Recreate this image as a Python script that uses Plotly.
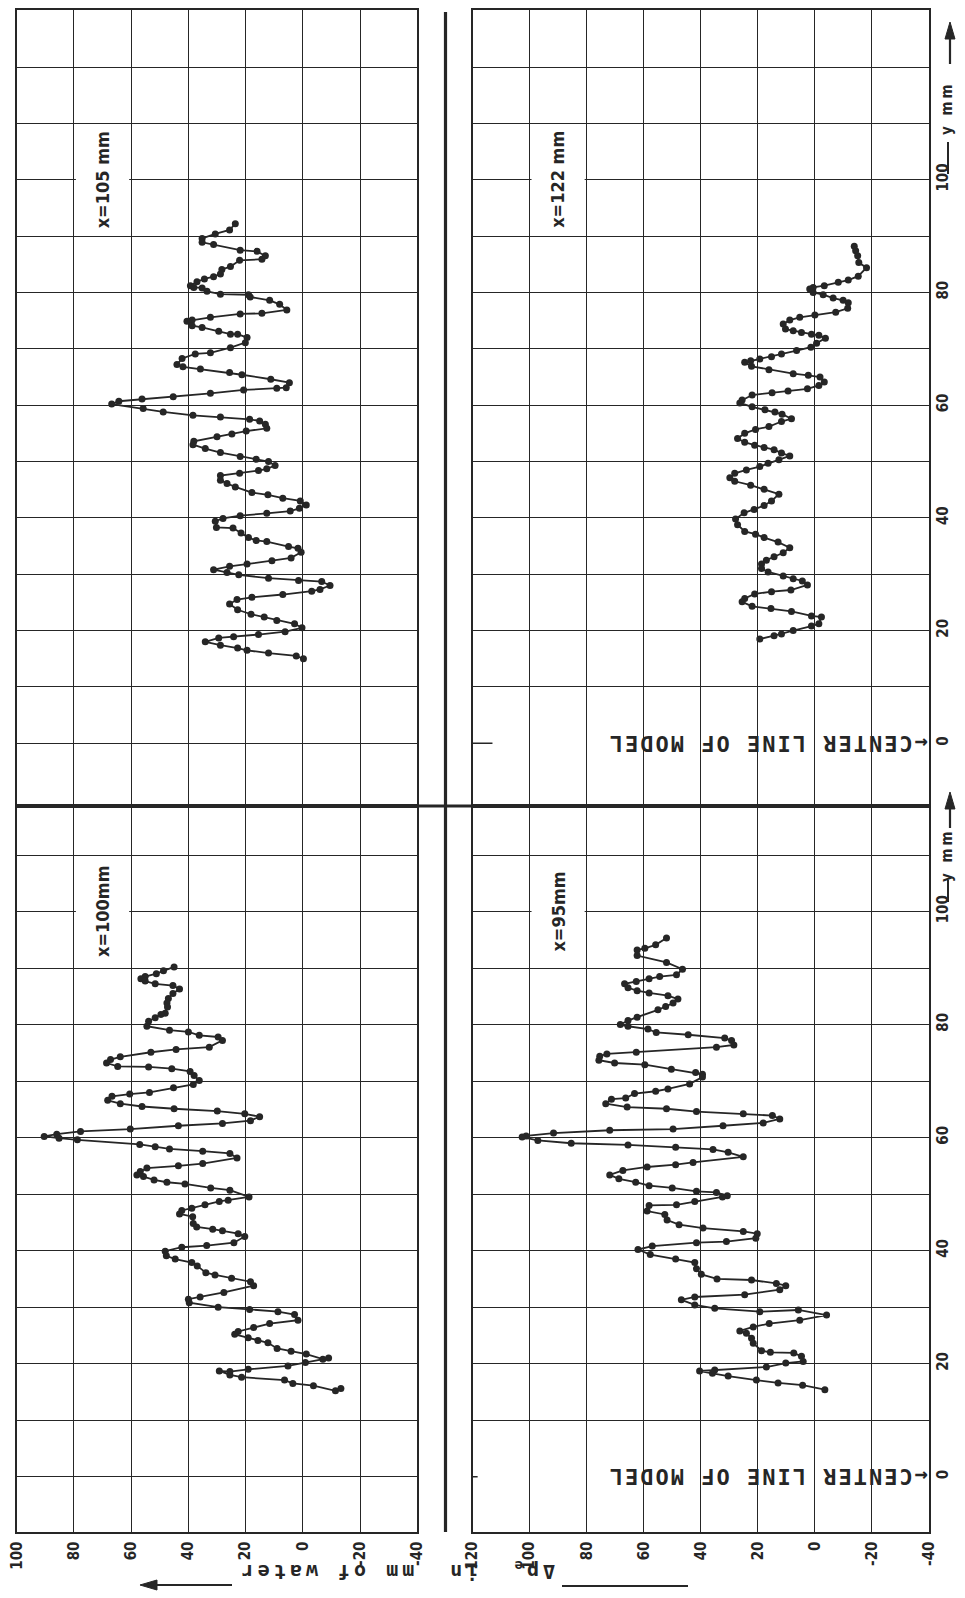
import plotly.graph_objects as go

# ---------------- data ----------------
# Panel x = 105 mm (top left)
DP_105 = [23.6, 25.6, 30.6, 35.2, 35.2, 31.2, 21.9, 16.0, 13.1, 14.3,
          22.1, 25.3, 28.3, 28.8, 31.2, 34.4, 37.0, 39.3, 38.1, 35.2,
          33.5, 28.8, 19.0, 18.4, 11.6, 8.1, 5.6, 14.3, 21.9, 32.3,
          38.7, 40.5, 38.7, 35.2, 29.4, 25.3, 22.8, 19.5, 20.1, 25.3,
          32.3, 37.6, 42.2, 44.0, 41.9, 35.8, 25.6, 21.3, 11.2, 4.7,
          5.8, 9.1, 20.7, 32.3, 45.3, 56.2, 64.3, 66.8, 55.8, 48.8,
          38.4, 28.8, 18.6, 15.1, 13.1, 12.6, 19.8, 24.8, 30.0, 38.1,
          38.4, 34.1, 28.8, 21.9, 16.3, 12.0, 9.7, 12.6, 15.5, 22.1,
          28.8, 28.8, 26.5, 23.6, 17.8, 12.2, 7.0, 0.9, -1.2, 1.2,
          4.4, 12.6, 21.9, 27.9, 30.6, 30.2, 24.4, 21.6, 19.0, 16.3,
          12.6, 5.0, 1.7, 0.6, 4.1, 10.8, 19.5, 25.6, 31.2, 26.5,
          22.4, 12.0, 1.5, -6.6, -9.5, -6.0, -3.1, 7.0, 17.8, 23.0,
          25.6, 22.8, 18.1, 13.5, 9.1, 2.9, 0.3, 6.2, 15.5, 24.2,
          29.4, 34.1, 28.8, 22.8, 19.5, 12.0, 2.3, -0.2]
Y_105 = [92.2, 91.1, 90.4, 89.6, 88.9, 88.5, 87.5, 87.3, 86.5, 85.9,
         85.7, 84.6, 84.1, 83.3, 82.8, 82.4, 81.9, 81.2, 80.9, 80.8,
         80.2, 79.7, 79.6, 79.2, 78.6, 77.9, 76.9, 76.3, 76.2, 75.6,
         75.1, 74.9, 74.1, 73.8, 73.1, 72.6, 72.6, 72.0, 71.1, 70.2,
         69.3, 69.1, 68.3, 67.2, 66.8, 66.4, 65.8, 65.4, 64.6, 64.0,
         63.1, 63.0, 62.7, 62.1, 61.5, 61.1, 60.7, 60.2, 59.4, 58.8,
         58.2, 57.9, 57.5, 57.2, 56.6, 55.9, 55.4, 54.9, 54.4, 53.6,
         53.0, 52.3, 51.6, 50.9, 50.4, 50.0, 49.3, 48.7, 48.4, 47.9,
         47.5, 46.7, 46.1, 45.5, 44.5, 44.1, 43.5, 43.0, 42.3, 41.7,
         41.2, 40.8, 40.4, 39.9, 39.4, 38.3, 38.2, 37.3, 36.5, 36.0,
         35.8, 34.9, 34.6, 33.9, 32.9, 32.4, 31.8, 31.4, 30.8, 30.3,
         29.9, 29.3, 28.9, 28.7, 28.0, 27.3, 27.0, 26.4, 25.9, 25.5,
         24.7, 23.7, 22.9, 22.4, 21.8, 21.2, 20.5, 19.8, 19.3, 18.9,
         18.7, 18.0, 17.4, 16.9, 16.5, 16.0, 15.5, 15.0]

# Panel x = 122 mm (top right)
DP_122 = [-13.8, -14.3, -15.0, -15.4, -18.1, -15.2, -11.7, -8.2, -3.3, 0.6,
          1.8, 0.6, -2.9, -6.4, -9.9, -11.7, -11.5, -7.3, 0.0, 5.3,
          8.8, 11.1, 10.3, 7.6, 4.7, 1.2, -1.4, -3.7, -0.6, 1.4,
          6.4, 11.7, 15.2, 19.3, 22.5, 24.6, 22.2, 16.1, 7.6, 2.3,
          -1.8, -3.3, -1.4, 2.6, 9.4, 15.0, 22.0, 25.5, 26.3, 22.0,
          17.5, 14.0, 11.5, 8.2, 11.7, 16.1, 20.8, 24.6, 27.1, 24.6,
          21.1, 17.8, 14.3, 11.7, 8.8, 12.6, 16.4, 19.3, 24.0, 28.1,
          29.8, 28.1, 22.5, 17.8, 12.6, 15.2, 17.8, 21.3, 24.8, 27.8,
          27.1, 24.6, 20.8, 17.8, 12.9, 8.8, 11.1, 14.3, 17.0, 18.7,
          18.7, 16.4, 11.1, 7.6, 4.4, 2.6, 8.4, 15.2, 21.1, 24.6,
          25.5, 22.0, 15.4, 8.2, 1.2, -2.3, -1.4, 1.2, 7.6, 11.7,
          14.3, 19.3]
Y_122 = [88.2, 87.4, 86.5, 85.3, 84.4, 82.9, 82.2, 81.8, 81.2, 80.9,
         80.6, 80.0, 79.6, 79.0, 78.6, 78.2, 77.2, 76.5, 76.0, 75.6,
         75.1, 74.4, 73.5, 73.2, 72.9, 72.6, 72.4, 71.9, 71.0, 70.3,
         69.7, 69.1, 68.6, 68.2, 67.9, 67.6, 66.9, 66.3, 65.6, 65.3,
         65.0, 64.1, 63.5, 62.9, 62.5, 62.2, 61.8, 60.9, 60.4, 59.7,
         59.2, 58.8, 58.4, 57.6, 57.1, 56.2, 55.7, 55.0, 54.1, 53.4,
         52.9, 52.5, 52.1, 51.5, 51.0, 50.3, 49.7, 49.1, 48.5, 47.9,
         47.1, 46.5, 45.8, 45.1, 44.2, 43.0, 42.2, 41.5, 40.9, 39.8,
         38.8, 37.6, 37.1, 36.5, 35.7, 34.7, 33.8, 33.1, 32.5, 31.8,
         31.0, 30.4, 29.7, 29.2, 28.8, 28.1, 27.2, 26.9, 26.5, 25.7,
         25.1, 24.3, 23.9, 23.4, 22.6, 22.4, 21.2, 20.8, 20.0, 19.4,
         19.1, 18.5]

# Panel x = 100 mm (bottom left)
DP_100 = [45.0, 48.7, 51.2, 55.1, 56.6, 55.1, 51.6, 45.4, 43.1, 45.4,
          47.0, 47.5, 47.3, 48.1, 49.6, 51.6, 53.9, 54.5, 46.6, 40.0,
          36.2, 29.6, 28.1, 32.7, 44.3, 53.1, 63.8, 67.2, 68.6, 64.7,
          53.9, 45.8, 39.4, 38.0, 36.2, 38.3, 45.2, 53.6, 60.5, 66.7,
          68.2, 63.8, 56.2, 45.0, 29.9, 20.3, 15.1, 18.3, 28.1, 43.5,
          60.3, 77.7, 86.0, 90.4, 85.2, 78.8, 57.0, 51.6, 46.6, 35.0,
          25.5, 23.0, 35.0, 43.5, 54.5, 56.8, 58.0, 55.7, 52.0, 47.5,
          41.2, 32.2, 25.5, 18.8, 26.1, 29.2, 34.2, 38.8, 42.3, 43.1,
          38.5, 38.3, 37.1, 31.5, 28.1, 22.6, 20.3, 24.1, 33.6, 42.3,
          48.1, 47.7, 44.6, 38.8, 36.9, 33.9, 30.7, 24.9, 18.3, 17.2,
          27.6, 35.9, 40.0, 39.7, 29.6, 18.6, 8.7, 2.9, 1.7, 11.6,
          17.2, 22.6, 23.8, 19.1, 15.7, 12.2, 9.0, 4.1, -1.2, -7.0,
          -9.0, -0.9, 5.2, 19.1, 25.5, 29.2, 25.5, 21.4, 6.4, 3.5,
          -3.7, -11.4, -13.3]
Y_100 = [90.2, 89.5, 89.0, 88.5, 88.1, 87.7, 87.2, 86.9, 86.3, 85.5,
         84.6, 83.8, 83.1, 82.0, 81.8, 81.2, 80.6, 79.7, 79.0, 78.7,
         78.1, 77.8, 77.2, 76.0, 75.6, 75.1, 74.3, 73.8, 73.2, 72.6,
         72.5, 72.2, 71.7, 71.0, 70.1, 69.4, 68.8, 68.0, 67.7, 67.3,
         66.6, 66.0, 65.5, 65.1, 64.7, 64.2, 63.7, 63.0, 62.5, 62.1,
         61.5, 61.1, 60.6, 60.2, 59.9, 59.6, 58.8, 58.4, 58.0, 57.6,
         57.2, 56.4, 55.4, 55.0, 54.6, 54.0, 53.4, 53.1, 52.5, 52.1,
         51.8, 51.1, 50.7, 49.5, 48.9, 48.7, 48.1, 47.5, 47.1, 46.5,
         46.0, 44.8, 44.2, 43.8, 43.5, 43.0, 42.5, 41.4, 40.9, 40.6,
         39.9, 39.1, 38.5, 37.9, 37.3, 36.1, 35.7, 35.1, 34.5, 33.8,
         32.6, 31.8, 31.4, 30.8, 30.0, 29.6, 29.2, 28.7, 27.7, 27.1,
         26.4, 25.7, 25.2, 24.6, 24.1, 23.7, 22.7, 22.2, 21.7, 20.8,
         21.0, 20.2, 19.6, 19.0, 18.6, 18.7, 18.0, 17.6, 17.1, 16.5,
         16.1, 15.2, 15.6]

# Panel x = 95 mm (bottom right)
DP_95 = [52.0, 55.8, 59.6, 62.3, 62.3, 52.0, 46.4, 48.5, 54.4, 58.1,
         62.6, 66.7, 65.5, 62.3, 58.1, 51.5, 48.0, 49.7, 52.3, 55.0,
         62.3, 65.5, 68.2, 65.5, 58.5, 55.6, 44.4, 31.6, 29.2, 28.4,
         34.5, 62.6, 72.9, 75.4, 75.7, 70.2, 59.6, 50.3, 41.8, 39.4,
         39.4, 43.9, 51.5, 55.8, 63.2, 66.3, 71.3, 73.3, 65.8, 52.0,
         41.5, 25.1, 14.9, 12.3, 18.1, 32.2, 49.7, 71.9, 91.6, 101.2,
         102.6, 97.1, 85.4, 65.5, 48.8, 35.7, 30.4, 25.1, 42.7, 48.8,
         58.8, 67.3, 71.9, 68.7, 62.8, 58.1, 50.0, 41.5, 34.5, 30.7,
         32.4, 42.1, 48.5, 58.1, 58.8, 52.6, 51.8, 47.6, 39.2, 25.1,
         20.2, 20.7, 31.0, 41.5, 57.0, 62.0, 57.7, 48.8, 42.1, 41.5,
         39.8, 34.3, 22.2, 13.5, 10.2, 12.3, 24.6, 42.1, 46.8, 42.1,
         35.1, 19.3, 5.8, -4.1, 5.3, 16.0, 21.6, 26.3, 24.0, 22.2,
         21.6, 18.7, 15.6, 7.4, 4.7, 4.1, 10.2, 17.0, 35.1, 40.4,
         35.9, 30.4, 20.5, 12.9, 4.3, -3.5]
Y_95 = [95.3, 94.1, 93.5, 93.2, 92.2, 91.0, 89.8, 88.8, 88.5, 88.1,
        87.6, 87.2, 86.5, 86.0, 85.6, 85.1, 84.5, 83.8, 83.2, 82.6,
        81.3, 80.7, 80.0, 79.7, 79.2, 78.6, 78.2, 77.6, 77.2, 76.4,
        76.0, 75.1, 74.8, 74.4, 73.7, 73.2, 72.9, 72.1, 71.5, 71.2,
        70.7, 69.5, 68.6, 68.2, 67.8, 67.0, 66.8, 66.0, 65.4, 65.1,
        64.6, 64.2, 63.9, 63.3, 62.6, 62.1, 61.5, 61.3, 60.8, 60.3,
        60.1, 59.5, 59.0, 58.7, 58.3, 57.9, 57.4, 56.6, 55.6, 55.2,
        54.8, 54.2, 53.4, 52.7, 52.1, 51.5, 51.1, 50.5, 50.3, 49.7,
        49.5, 48.7, 48.1, 48.0, 47.0, 46.4, 45.4, 44.6, 44.0, 43.4,
        43.0, 42.2, 41.6, 41.4, 40.8, 40.2, 39.3, 38.5, 37.9, 36.8,
        35.8, 35.0, 34.8, 34.2, 33.8, 33.1, 32.2, 31.8, 31.3, 30.4,
        29.8, 29.2, 29.5, 28.6, 27.7, 27.1, 26.5, 25.8, 25.4, 24.5,
        23.6, 22.3, 22.0, 21.9, 21.3, 20.4, 20.1, 19.4, 18.9, 18.7,
        18.3, 17.8, 17.1, 16.6, 16.2, 15.4]

# axis ticks / labels
DP_TICKS_LEFT = [100, 80, 60, 40, 20, 0, -20, -40]
DP_TICKS_RIGHT = [120, 100, 80, 60, 40, 20, 0, -20, -40]
Y_LABEL_TICKS = [0, 20, 40, 60, 80, 100]
Y_GRID_TOP = [0, 10, 20, 30, 40, 50, 60, 70, 80, 90, 100, 110, 120]
Y_GRID_BOT = [0, 10, 20, 30, 40, 50, 60, 70, 80, 90, 100, 110]
PANEL_LABELS = ["x=105 mm", "x=122 mm", "x=100mm", "x=95mm"]
CENTER_TEXT = "\u2190CENTER LINE OF MODEL"
TITLE_TEXT = "\u0394p<sub>e</sub>  in  mm of water"
Y_NAME = "y mm"

# ---------------- geometry / style ----------------
# The page body has an 8 px margin, so the figure is made 8 px smaller and all
# page-pixel positions below are converted with that offset.
OFF = 8
W, H = 965 - OFF, 1598 - OFF
def px(v):
    return (v - OFF) / W
def py(v):
    return 1 - (v - OFF) / H

LEFT_X = [px(16.7), px(417.3)]
RIGHT_X = [px(472.5), px(929.0)]
TOP_Y = [py(806.0), py(10.0)]
BOT_Y = [py(1531.7), py(806.0)]
TOP_RANGE = [-11.13, 130.13]
BOT_RANGE = [-9.73, 118.67]

INK = "#262626"
LBL_FONT = dict(family="DejaVu Sans Condensed, DejaVu Sans, Arial, sans-serif",
                size=15, color=INK, weight="bold")
MONO = "DejaVu Sans Mono, Liberation Mono, monospace"

def xaxis(domain, rng, anchor, ticks, labels):
    return dict(domain=domain, range=rng, anchor=anchor, automargin=False,
                tickmode="array", tickvals=ticks,
                ticktext=[str(t) for t in ticks],
                showticklabels=labels, tickangle=-90, tickfont=LBL_FONT,
                ticks="", ticklabelstandoff=2, ticklabeloverflow="allow",
                showgrid=True, gridcolor=INK, gridwidth=1.4,
                showline=True, linecolor=INK, linewidth=1.6, mirror=True,
                zeroline=False, fixedrange=True)

def yaxis(domain, rng, anchor, grid):
    return dict(domain=domain, range=rng, anchor=anchor, automargin=False,
                tickmode="array", tickvals=grid, showticklabels=False,
                ticks="", showgrid=True, gridcolor=INK, gridwidth=1.4,
                showline=True, linecolor=INK, linewidth=1.6, mirror=True,
                zeroline=False, fixedrange=True)

def label_axis(over, anchor, rng):
    return dict(overlaying=over, anchor=anchor, side="right", range=rng,
                automargin=False,
                tickmode="array", tickvals=Y_LABEL_TICKS,
                ticktext=[str(t) for t in Y_LABEL_TICKS],
                tickangle=-90, tickfont=LBL_FONT, ticks="",
                ticklabelstandoff=3, ticklabeloverflow="allow",
                showgrid=False, showline=False, zeroline=False,
                fixedrange=True)

fig = go.Figure()

series = [(DP_105, Y_105, "x", "y"), (DP_122, Y_122, "x2", "y2"),
          (DP_100, Y_100, "x3", "y3"), (DP_95, Y_95, "x4", "y4")]
for dp, yy, xa, ya in series:
    fig.add_trace(go.Scatter(x=dp, y=yy, xaxis=xa, yaxis=ya,
                             mode="lines+markers",
                             line=dict(color=INK, width=1.8),
                             marker=dict(size=7, color=INK),
                             hoverinfo="skip", showlegend=False))
# empty traces so that the right-hand label axes are drawn
for xa, ya in [("x2", "y5"), ("x4", "y6")]:
    fig.add_trace(go.Scatter(x=[None], y=[None], xaxis=xa, yaxis=ya,
                             mode="markers", hoverinfo="skip", showlegend=False))

shapes = []
def pline(x0, y0, x1, y1, w):
    shapes.append(dict(type="line", xref="paper", yref="paper", x0=x0, x1=x1,
                       y0=y0, y1=y1, line=dict(color=INK, width=w)))

# thick separators
pline(px(445.5), py(1532), px(445.5), py(12), 3.2)
pline(px(16.7), py(806), px(929), py(806), 3.2)
# white cells behind panel labels (break the 100 mm grid line)
for xr, yr, c in [("x", "y", 70), ("x2", "y2", 90), ("x3", "y3", 70), ("x4", "y4", 90)]:
    shapes.append(dict(type="rect", xref=xr, yref=yr, x0=c + 9.3, x1=c - 9.3,
                       y0=95, y1=105, fillcolor="white", line=dict(width=0),
                       layer="above"))
# little tick stubs at the centre line
shapes.append(dict(type="line", xref="x2", yref="y2", x0=120, x1=113, y0=0, y1=0,
                   line=dict(color=INK, width=1.4)))
shapes.append(dict(type="line", xref="x4", yref="y4", x0=121.6, x1=118.2, y0=0, y1=0,
                   line=dict(color=INK, width=1.4)))
shapes.append(dict(type="line", xref="x3", yref="y3", x0=-40, x1=-42.8, y0=0, y1=0,
                   line=dict(color=INK, width=1.4)))
# underline beside "100 y" and arrow of the y axis name (pixel geometry)
for (u0, u1, a0, a1) in [(174, 142, 64, 22), (902, 880, 828, 792)]:
    pline(px(948), py(u0), px(948), py(u1), 2.0)
    pline(px(950), py(a0), px(950), py(a1 + 12), 2.2)
    shapes.append(dict(type="path", xref="paper", yref="paper",
                       path="M {:.5f} {:.5f} L {:.5f} {:.5f} L {:.5f} {:.5f} Z".format(
                           px(950), py(a1), px(945), py(a1 + 17), px(955), py(a1 + 17)),
                       fillcolor=INK, line=dict(color=INK, width=1)))
# title lines and arrow
pline(px(562), py(1586), px(688), py(1586), 2.2)
pline(px(150), py(1585), px(232), py(1585), 2.2)
shapes.append(dict(type="path", xref="paper", yref="paper",
                   path="M {:.5f} {:.5f} L {:.5f} {:.5f} L {:.5f} {:.5f} Z".format(
                       px(140), py(1585), px(157), py(1580), px(157), py(1590)),
                   fillcolor=INK, line=dict(color=INK, width=1)))

annotations = []
for (xr, yr, c), txt in zip([("x", "y", 70), ("x2", "y2", 90), ("x3", "y3", 70),
                             ("x4", "y4", 90)], PANEL_LABELS):
    annotations.append(dict(x=c, y=100, xref=xr, yref=yr, text=txt, textangle=-90,
                            showarrow=False,
                            font=dict(family=LBL_FONT["family"], size=18,
                                      color=INK, weight="bold")))
for xr, yr in [("x2", "y2"), ("x4", "y4")]:
    annotations.append(dict(x=-40, y=0, xref=xr, yref=yr, xanchor="right",
                            yanchor="middle", xshift=1,
                            text='<span style="letter-spacing:2px">' + CENTER_TEXT + "</span>",
                            textangle=180, showarrow=False,
                            font=dict(family=MONO, size=22, color=INK, weight="bold")))
# "y mm" axis names
for yc in [108, 855]:
    annotations.append(dict(x=px(947), y=py(yc), xref="paper", yref="paper",
                            text='<span style="letter-spacing:3px">' + Y_NAME + "</span>",
                            textangle=-90, showarrow=False,
                            xanchor="center", yanchor="middle", font=LBL_FONT))
# bottom axis title (printed upside down)
annotations.append(dict(x=px(397), y=py(1586), xref="paper", yref="paper",
                        text='<span style="letter-spacing:4px">' + TITLE_TEXT + "</span>",
                        textangle=180, showarrow=False,
                        font=dict(family=MONO, size=20, color=INK, weight="bold")))

fig.update_layout(
    template="none",
    width=W, height=H,
    margin=dict(l=0, r=0, t=0, b=0, pad=0),
    paper_bgcolor="white", plot_bgcolor="white",
    showlegend=False,
    xaxis=xaxis(LEFT_X, [100, -40], "y", DP_TICKS_LEFT, False),
    xaxis2=xaxis(RIGHT_X, [120, -40], "y2", DP_TICKS_RIGHT, False),
    xaxis3=xaxis(LEFT_X, [100, -40], "y3", DP_TICKS_LEFT, True),
    xaxis4=xaxis(RIGHT_X, [120, -40], "y4", DP_TICKS_RIGHT, True),
    yaxis=yaxis(TOP_Y, TOP_RANGE, "x", Y_GRID_TOP),
    yaxis2=yaxis(TOP_Y, TOP_RANGE, "x2", [v for v in Y_GRID_TOP if v != 0]),
    yaxis3=yaxis(BOT_Y, BOT_RANGE, "x3", Y_GRID_BOT),
    yaxis4=yaxis(BOT_Y, BOT_RANGE, "x4", [v for v in Y_GRID_BOT if v != 0]),
    yaxis5=label_axis("y2", "x2", TOP_RANGE),
    yaxis6=label_axis("y4", "x4", BOT_RANGE),
    shapes=shapes,
    annotations=annotations,
)

fig.write_html("out.html")
